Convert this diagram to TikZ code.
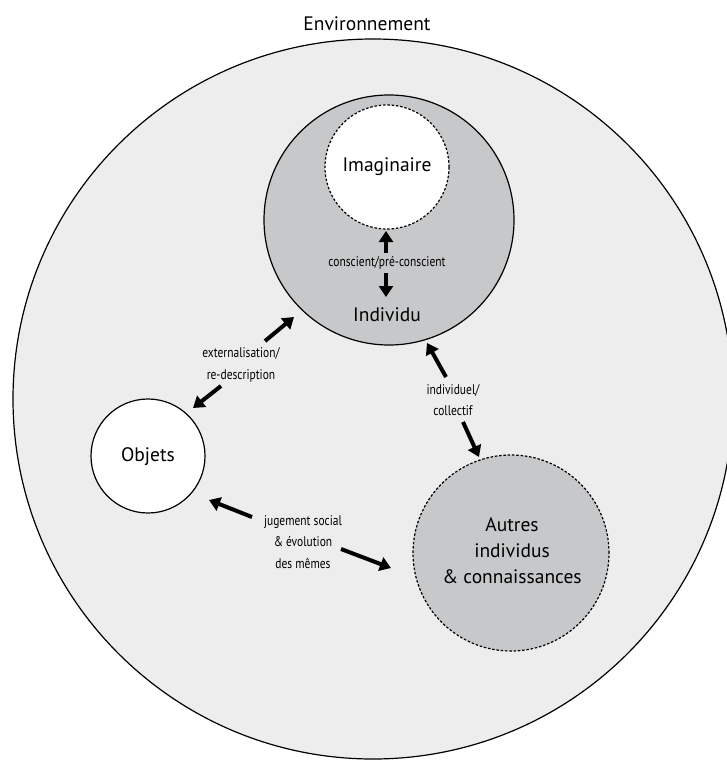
\documentclass[tikz,border=0pt]{standalone}
\usepackage{fontspec}
\setmainfont{PT Sans}
\newfontfamily\condfont[FakeStretch=0.82]{PT Sans}
\usetikzlibrary{arrows.meta}
\definecolor{envgray}{HTML}{EDEDED}
\definecolor{midgray}{HTML}{C7C8CA}
\begin{document}
\begin{tikzpicture}[x=1pt,y=-1pt,
  bigtext/.style={font=\fontsize{19.5}{26}\selectfont, align=center, inner sep=0pt},
  lab/.style={font=\condfont\fontsize{14}{21.5}\selectfont, align=center, inner sep=0pt},
  arr/.style={line width=4pt, -{Triangle[width=14pt,length=11pt]}},
  solidcirc/.style={circle, draw, line width=1.2pt, inner sep=0pt},
  dotcirc/.style={circle, draw, line width=1.2pt, dash pattern=on 2.5pt off 1.8pt, inner sep=0pt},
]
\useasboundingbox (0,0) rectangle (727,760);
\fill[white] (0,0) rectangle (727,760);
\begin{scope}
\clip (0,0) rectangle (727,760);
\node (env) [solidcirc, fill=envgray, minimum size=720pt] at (373,399) {};
\end{scope}
\node (envtxt) [bigtext] at (367,24) {Environnement};

\node (indiv) [solidcirc, fill=midgray, minimum size=250pt] at (389,220) {};
\node (imag) [dotcirc, fill=white, minimum size=124pt] at (387,167) {};
\node (objets) [solidcirc, fill=white, minimum size=114pt] at (148,456) {};
\node (autres) [dotcirc, fill=midgray, minimum size=196pt] at (511,553) {};

\node (imagtxt) [bigtext] at (387,167) {Imaginaire};
\node (indivtxt) [bigtext] at (387,315) {Individu};
\node (objtxt) [bigtext] at (148,457) {Objets};
\node (autrestxt) [bigtext] at (512,551) {Autres\\individus\\\& connaissances};

\node (lconsc) [lab] at (387,263) {conscient/pré-conscient};
\node (lext) [lab] at (241,365) {externalisation/\\re-description};
\node (lind) [lab] at (453,400) {individuel/\\collectif};
\node (ljug) [lab] at (303,542) {jugement social\\\& évolution\\des mêmes};

\coordinate (c1a) at (386,253); \coordinate (c1b) at (386,231);
\coordinate (c2a) at (386,273); \coordinate (c2b) at (386,297);
\coordinate (e1a) at (265,341); \coordinate (e1b) at (294,317);
\coordinate (e2a) at (221,386); \coordinate (e2b) at (193,408);
\coordinate (i1a) at (446,377); \coordinate (i1b) at (427,343);
\coordinate (i2a) at (463,422); \coordinate (i2b) at (479,457);
\coordinate (j1a) at (252,517); \coordinate (j1b) at (209,500);
\coordinate (j2a) at (341,549); \coordinate (j2b) at (391,568);

\draw[arr] (c1a) -- (c1b);
\draw[arr] (c2a) -- (c2b);
\draw[arr] (e1a) -- (e1b);
\draw[arr] (e2a) -- (e2b);
\draw[arr] (i1a) -- (i1b);
\draw[arr] (i2a) -- (i2b);
\draw[arr] (j1a) -- (j1b);
\draw[arr] (j2a) -- (j2b);
\end{tikzpicture}
\end{document}
